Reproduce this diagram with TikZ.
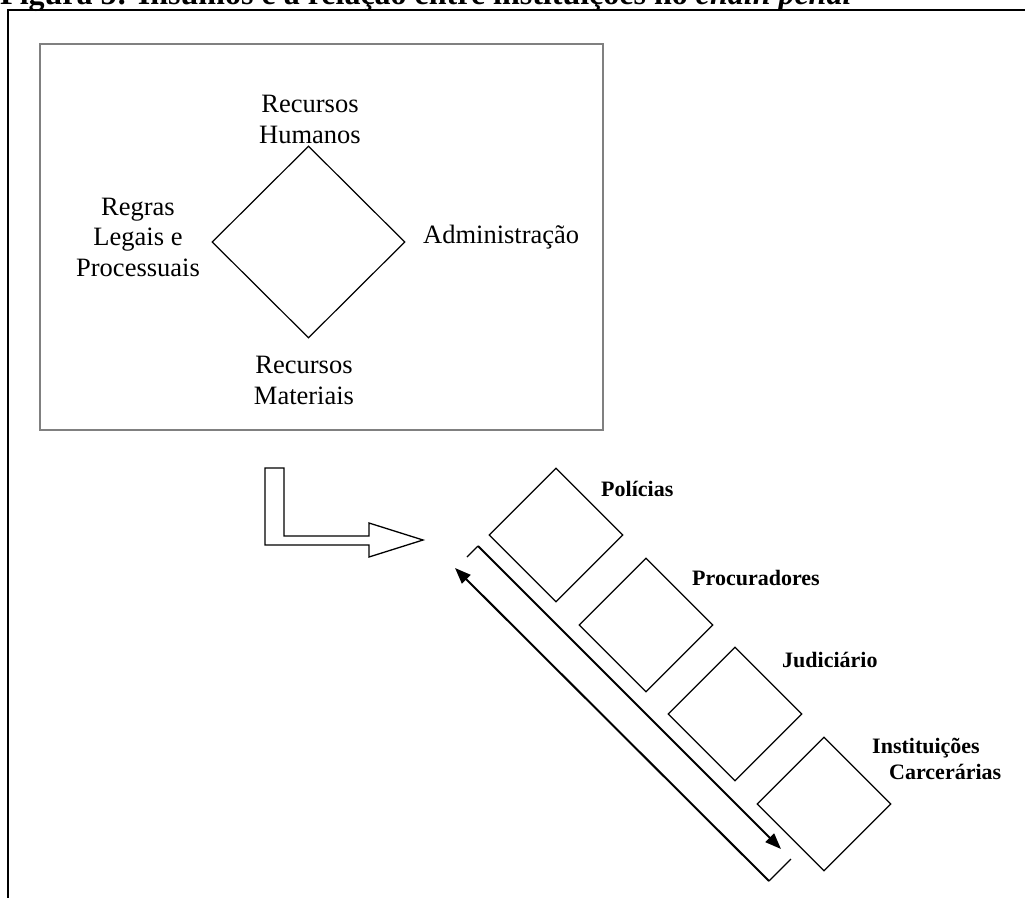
\documentclass[tikz,border=0pt]{standalone}
\usepackage{fontspec}
\setmainfont{Liberation Serif}
\usetikzlibrary{shapes.geometric,arrows.meta}
\begin{document}
\begin{tikzpicture}[x=1pt,y=-1pt,
  lbl/.style={font=\fontsize{26.5}{30.5}\selectfont, align=center, inner sep=0pt, anchor=base},
  blbl/.style={font=\fontsize{22}{26}\selectfont\bfseries, align=left, inner sep=0pt, anchor=base west},
  bigdia/.style={diamond, draw, line width=1.2pt, minimum width=193pt, minimum height=192pt, inner sep=0pt},
  inst/.style={diamond, draw, line width=1.2pt, minimum width=134pt, minimum height=134pt, inner sep=0pt},
  frameline/.style={line width=1.6pt},
  graybox/.style={draw=black!50, line width=1.5pt, inner sep=0pt},
  longarrow/.style={line width=2pt, -{Triangle[length=16pt,width=12pt]}},
  tickline/.style={line width=1.1pt},
  hollow/.style={draw, line width=1.3pt, line join=miter}
]
\useasboundingbox (0,0) rectangle (1025,897);
\clip (0,0) rectangle (1025,897);

% title (cut by the top edge)
\node[anchor=base west, inner sep=0pt, font=\fontsize{32}{36}\selectfont\bfseries] (title) at (0,4)
  {Figura 5: Insumos e a relação entre instituições no \textit{chain penal}};

% outer frame
\draw[frameline] (8,900) -- (8,10) -- (1030,10);

% inputs box
\node[graybox, minimum width=563pt, minimum height=386pt, anchor=north west] (box) at (39,43) {};

% central diamond and inputs (anchor = baseline of the last line)
\node[bigdia] (insumos) at (308.5,242) {};
\node[lbl] (rh) at (310,143) {Recursos\\Humanos};
\node[lbl] (rl) at (138,276) {Regras\\Legais e\\Processuais};
\node[lbl, anchor=base west] (adm) at (423,243) {Administração};
\node[lbl] (rm) at (304,404) {Recursos\\Materiais};

% hollow bent arrow
\draw[hollow] (265,468) -- (284,468) -- (284,536) -- (369,536) -- (369,523) -- (423,540)
  -- (369,557) -- (369,545) -- (265,545) -- cycle;

% institutions
\node[inst] (pol) at (556,535) {};
\node[inst] (proc) at (646,625) {};
\node[inst] (jud) at (735,714) {};
\node[inst] (carc) at (824,804) {};
\node[blbl] (lpol) at (601,496) {Polícias};
\node[blbl] (lproc) at (692,585) {Procuradores};
\node[blbl] (ljud) at (782,667) {Judiciário};
\node[blbl] (lcarc) at (872,779) {Instituições\\\hspace*{17pt}Carcerárias};

% flow arrows
\coordinate (a0) at (467,557);
\coordinate (a1) at (478,546);
\coordinate (a2) at (781,849);
\coordinate (b0) at (791,859);
\coordinate (b1) at (769,881);
\coordinate (b2) at (455,568);
\draw[tickline] (a0) -- (a1);
\draw[longarrow] (a1) -- (a2);
\draw[tickline] (b0) -- (b1);
\draw[longarrow] (b1) -- (b2);
\end{tikzpicture}
\end{document}
